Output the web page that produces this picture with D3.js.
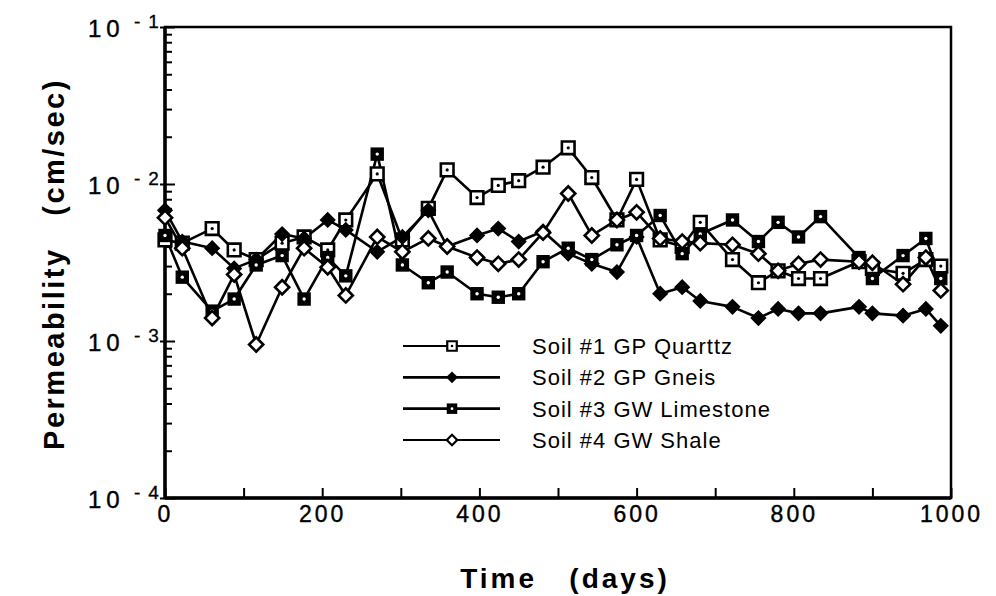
<!DOCTYPE html>
<html>
<head>
<meta charset="utf-8">
<script src="https://cdn.jsdelivr.net/npm/d3@7"></script>
<style>
  body { margin: 0; background: #fff; }
  svg { display: block; }
  text { font-family: "Liberation Sans", Arial, Helvetica, sans-serif; fill: #000; }
</style>
</head>
<body>
<div id="chart-area"></div>
<script>
// time in days
const days = [0, 22, 60, 88, 116, 149, 177, 207, 230, 270, 302, 335, 359, 397, 424, 450, 481, 513,
              543, 575, 600, 630, 658, 681, 722, 755, 780, 806, 834, 883, 900, 939, 968, 987];

// permeability, cm/sec
const soil1 = [4.4e-3, 4.2e-3, 5.2e-3, 3.8e-3, 3.3e-3, 4.2e-3, 4.6e-3, 3.8e-3, 5.9e-3, 1.16e-2, 4.4e-3, 7.0e-3,
               1.23e-2, 8.2e-3, 9.8e-3, 1.05e-2, 1.28e-2, 1.7e-2, 1.1e-2, 5.9e-3, 1.07e-2, 4.4e-3, 4.0e-3, 5.7e-3,
               3.3e-3, 2.35e-3, 2.8e-3, 2.5e-3, 2.5e-3, 3.2e-3, 2.9e-3, 2.7e-3, 3.3e-3, 3.0e-3];
const soil2 = [6.8e-3, 4.3e-3, 3.9e-3, 2.9e-3, 3.3e-3, 4.8e-3, 4.5e-3, 5.9e-3, 5.1e-3, 3.7e-3, 4.6e-3, 6.8e-3,
               4.0e-3, 4.7e-3, 5.2e-3, 4.3e-3, 5.0e-3, 3.6e-3, 3.1e-3, 2.75e-3, 4.6e-3, 2.0e-3, 2.2e-3, 1.8e-3,
               1.65e-3, 1.4e-3, 1.6e-3, 1.5e-3, 1.5e-3, 1.65e-3, 1.5e-3, 1.45e-3, 1.6e-3, 1.25e-3];
const soil3 = [4.7e-3, 2.55e-3, 1.55e-3, 1.85e-3, 3.05e-3, 3.5e-3, 1.85e-3, 3.4e-3, 2.6e-3, 1.55e-2, 3.05e-3, 2.35e-3,
               2.75e-3, 2.0e-3, 1.9e-3, 2.0e-3, 3.2e-3, 3.9e-3, 3.3e-3, 4.1e-3, 4.7e-3, 6.3e-3, 3.6e-3, 4.8e-3,
               5.9e-3, 4.3e-3, 5.7e-3, 4.6e-3, 6.2e-3, 3.4e-3, 2.5e-3, 3.5e-3, 4.5e-3, 2.5e-3];
const soil4 = [6.1e-3, 3.9e-3, 1.4e-3, 2.65e-3, 9.5e-4, 2.2e-3, 3.9e-3, 2.95e-3, 1.95e-3, 4.6e-3, 3.7e-3, 4.5e-3,
               4.0e-3, 3.4e-3, 3.1e-3, 3.3e-3, 4.9e-3, 8.7e-3, 4.7e-3, 5.9e-3, 6.6e-3, 4.5e-3, 4.3e-3, 4.2e-3,
               4.1e-3, 3.6e-3, 2.8e-3, 3.1e-3, 3.3e-3, 3.2e-3, 3.15e-3, 2.3e-3, 3.4e-3, 2.1e-3];

const seriesNames = ["Soil #1 GP Quarttz", "Soil #2 GP Gneis", "Soil #3 GW Limestone", "Soil #4 GW Shale"];
const xTicks = [0, 200, 400, 600, 800, 1000];
const xMinorTicks = [100, 300, 500, 700, 900];
const yDecades = [1e-1, 1e-2, 1e-3, 1e-4];
const yExponents = ["-1", "-2", "-3", "-4"];

const width = 996, height = 596;
const plotLeft = 165, plotRight = 951, plotTop = 27, plotBottom = 498;

const svg = d3.select("#chart-area").append("svg")
    .attr("width", width)
    .attr("height", height);

const x = d3.scaleLinear().domain([0, 1000]).range([plotLeft, plotRight]);
const y = d3.scaleLog().domain([1e-4, 1e-1]).range([plotBottom, plotTop]);

// minor log ticks
var yMinor = [];
[1e-4, 1e-3, 1e-2].forEach(d => {
    for (var k = 2; k <= 9; k++) yMinor.push(d * k);
});

// frame
svg.append("rect")
    .attr("x", plotLeft).attr("y", plotTop)
    .attr("width", plotRight - plotLeft).attr("height", plotBottom - plotTop)
    .attr("fill", "none").attr("stroke", "#000").attr("stroke-width", 2.5);

// y ticks (inside)
svg.append("g").attr("transform", `translate(${plotLeft},0)`)
    .call(d3.axisRight(y).tickValues(yMinor).tickSize(7).tickFormat(""))
    .call(g => g.select(".domain").remove())
    .selectAll("line").attr("stroke-width", 2);
svg.append("g").attr("transform", `translate(${plotLeft - 5},0)`)
    .call(d3.axisRight(y).tickValues(yDecades).tickSize(15).tickFormat(""))
    .call(g => g.select(".domain").remove())
    .selectAll("line").attr("stroke-width", 2);

// x ticks (inside)
svg.append("g").attr("transform", `translate(0,${plotBottom})`)
    .call(d3.axisTop(x).tickValues(xTicks.concat(xMinorTicks)).tickSize(10).tickFormat(""))
    .call(g => g.select(".domain").remove())
    .selectAll("line").attr("stroke-width", 2);

// thicker left and bottom axis lines
svg.append("line").attr("x1", plotLeft).attr("x2", plotLeft).attr("y1", plotTop).attr("y2", plotBottom + 1)
    .attr("stroke", "#000").attr("stroke-width", 3.5);
svg.append("line").attr("x1", plotLeft).attr("x2", plotRight).attr("y1", plotBottom).attr("y2", plotBottom)
    .attr("stroke", "#000").attr("stroke-width", 3.5);

// x tick labels
svg.append("g").attr("transform", `translate(0,${plotBottom})`)
    .call(d3.axisBottom(x).tickValues(xTicks).tickSize(0).tickPadding(8).tickFormat(d3.format("d")))
    .call(g => g.select(".domain").remove())
    .selectAll("text")
    .attr("font-size", 23)
    .attr("letter-spacing", 3)
    .attr("stroke", "#000").attr("stroke-width", 0.4)
    .attr("font-family", "'Liberation Sans', Arial, sans-serif");

// y tick labels: 10^-n
const yLab = svg.append("g");
yDecades.forEach((d, i) => {
    yLab.append("text")
        .attr("x", 88).attr("y", y(d) + 10)
        .attr("font-size", 24).attr("letter-spacing", 5)
        .attr("stroke", "#000").attr("stroke-width", 0.4)
        .text("10");
    yLab.append("text")
        .attr("x", 134).attr("y", y(d) + 1)
        .attr("font-size", 19).attr("letter-spacing", 8)
        .attr("stroke", "#000").attr("stroke-width", 0.3)
        .text(yExponents[i]);
});

// axis titles
svg.append("text")
    .attr("x", 565).attr("y", 588)
    .attr("text-anchor", "middle")
    .attr("font-size", 28).attr("font-weight", "bold").attr("letter-spacing", 3)
    .style("white-space", "pre")
    .text("Time   (days)");

svg.append("text")
    .attr("transform", "translate(64,264) rotate(-90)")
    .attr("text-anchor", "middle")
    .attr("font-size", 29).attr("font-weight", "bold").attr("letter-spacing", 2.5)
    .style("white-space", "pre")
    .text("Permeability   (cm/sec)");

// series
const series = [soil1, soil2, soil3, soil4];
const line = d3.line().x((d, i) => x(days[i])).y(d => y(d));

const square = d3.symbol(d3.symbolSquare, 160)();
const bigSquare = d3.symbol(d3.symbolSquare, 180)();
const diamond = d3.symbol(d3.symbolSquare, 100)();

function drawMarker(g, k) {
    if (k === 0) {
        g.append("path").attr("d", square).attr("fill", "#fff").attr("stroke", "#000").attr("stroke-width", 2.6);
        g.append("circle").attr("r", 1.6).attr("fill", "#000");
    } else if (k === 1) {
        g.append("path").attr("d", diamond).attr("transform", "rotate(45)").attr("fill", "#000").attr("stroke", "#000").attr("stroke-width", 1.5);
    } else if (k === 2) {
        g.append("path").attr("d", bigSquare).attr("fill", "#000");
        g.append("circle").attr("r", 1.7).attr("fill", "#fff");
    } else {
        g.append("path").attr("d", diamond).attr("transform", "rotate(45)").attr("fill", "#fff").attr("stroke", "#000").attr("stroke-width", 2.6);
    }
}

series.forEach((vals, k) => {
    svg.append("path")
        .datum(vals)
        .attr("fill", "none")
        .attr("stroke", "#000")
        .attr("stroke-width", 2.6)
        .attr("stroke-linejoin", "round")
        .attr("d", line);
});

series.forEach((vals, k) => {
    svg.append("g").selectAll("g").data(vals).enter().append("g")
        .attr("transform", (d, i) => `translate(${x(days[i])},${y(d)})`)
        .each(function () { drawMarker(d3.select(this), k); });
});

// legend
const legend = svg.append("g");
const legendY = d3.scalePoint().domain(seriesNames).range([346, 440]);
seriesNames.forEach((name, k) => {
    const yy = legendY(name);
    legend.append("line")
        .attr("x1", 403).attr("x2", 500).attr("y1", yy).attr("y2", yy)
        .attr("stroke", "#000").attr("stroke-width", k === 0 || k === 3 ? 2 : 2.6);
    const mg = legend.append("g").attr("transform", `translate(452,${yy})`);
    if (k === 0) {
        mg.append("path").attr("d", d3.symbol(d3.symbolSquare, 90)()).attr("fill", "#fff").attr("stroke", "#000").attr("stroke-width", 2.2);
        mg.append("circle").attr("r", 1.3).attr("fill", "#000");
    } else if (k === 1) {
        mg.append("path").attr("d", d3.symbol(d3.symbolSquare, 70)()).attr("transform", "rotate(45)").attr("fill", "#000");
    } else if (k === 2) {
        mg.append("path").attr("d", d3.symbol(d3.symbolSquare, 110)()).attr("fill", "#000");
        mg.append("circle").attr("r", 1.4).attr("fill", "#fff");
    } else {
        mg.append("path").attr("d", d3.symbol(d3.symbolSquare, 55)()).attr("transform", "rotate(45)").attr("fill", "#fff").attr("stroke", "#000").attr("stroke-width", 2.2);
    }
    legend.append("text")
        .attr("x", 532).attr("y", yy + 8)
        .attr("font-size", 22).attr("letter-spacing", 1)
        .text(name);
});
</script>
</body>
</html>
